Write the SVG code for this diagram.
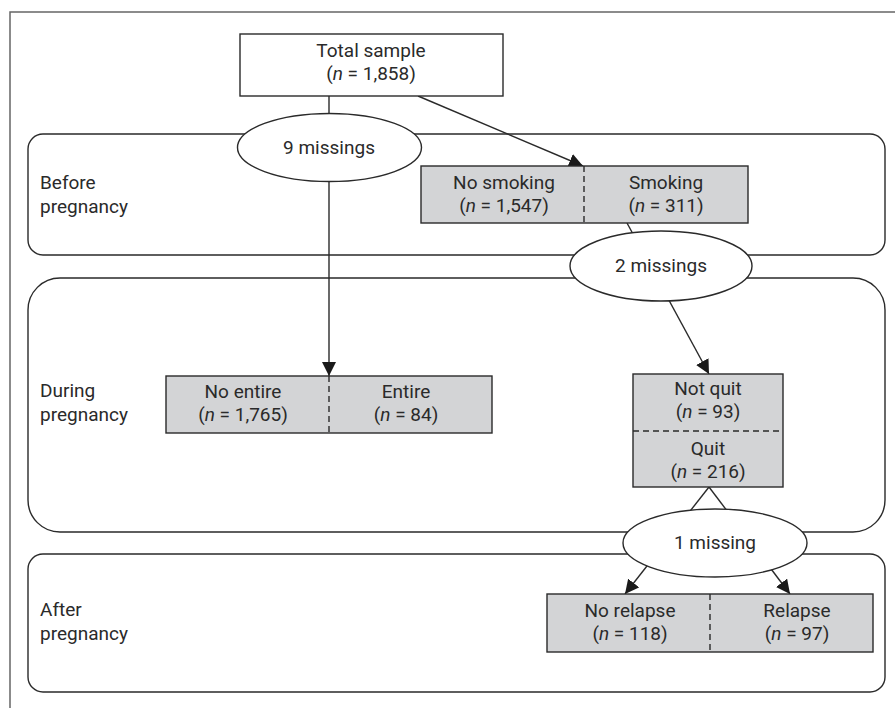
<svg xmlns="http://www.w3.org/2000/svg" width="895" height="708" viewBox="0 0 895 708">
<defs>
<marker id="arr" markerUnits="userSpaceOnUse" markerWidth="14" markerHeight="14" viewBox="0 0 14 14" refX="14" refY="7" orient="auto">
<path d="M0,0 L14,7 L0,14 Z" fill="#1a1a1a"/>
</marker>
<style>
text{font-family:Roboto,"Liberation Sans",sans-serif;font-size:19px;fill:#2a2a2a}
.c{text-anchor:middle}
.it{font-style:italic}
.phase{fill:none;stroke:#2a2a2a;stroke-width:1.4}
.box{fill:#d3d4d6;stroke:#2a2a2a;stroke-width:1.4}
.wbox{fill:#ffffff;stroke:#2a2a2a;stroke-width:1.4}
.ell{fill:#ffffff;stroke:#2a2a2a;stroke-width:1.4}
.dash{stroke:#2a2a2a;stroke-width:1.4;stroke-dasharray:6,4;fill:none}
.ln{stroke:#2a2a2a;stroke-width:1.4;fill:none}
</style>
</defs>
<rect width="895" height="708" fill="#ffffff"/>
<rect x="10" y="12" width="900" height="710" fill="none" stroke="#666666" stroke-width="1.5"/>

<g id="phase-before">
<rect class="phase" x="28" y="134" width="857" height="121" rx="15" ry="15"/>
<text><tspan x="40" y="189">Before</tspan><tspan x="40" y="213">pregnancy</tspan></text>
</g>
<g id="phase-during">
<rect class="phase" x="28" y="278" width="857" height="254" rx="32" ry="32"/>
<text><tspan x="40" y="397">During</tspan><tspan x="40" y="421">pregnancy</tspan></text>
</g>
<g id="phase-after">
<rect class="phase" x="28" y="554" width="857" height="138" rx="15" ry="15"/>
<text><tspan x="40" y="616">After</tspan><tspan x="40" y="640">pregnancy</tspan></text>
</g>

<g id="connectors">
<line class="ln" x1="329" y1="96" x2="329" y2="376" marker-end="url(#arr)"/>
<line class="ln" x1="418" y1="96" x2="583" y2="166" marker-end="url(#arr)"/>
<line class="ln" x1="627" y1="223" x2="709" y2="374" marker-end="url(#arr)"/>
<line class="ln" x1="709" y1="487" x2="625" y2="594" marker-end="url(#arr)"/>
<line class="ln" x1="709" y1="487" x2="790" y2="594" marker-end="url(#arr)"/>
</g>

<g id="total-sample">
<rect class="wbox" x="240" y="34" width="263" height="62"/>
<text class="c"><tspan x="371" y="57">Total sample</tspan><tspan x="371" y="80">(<tspan class="it">n</tspan> = 1,858)</tspan></text>
</g>

<g id="missing-9">
<ellipse class="ell" cx="329.5" cy="147.5" rx="92" ry="34"/>
<text class="c" x="329" y="154">9 missings</text>
</g>

<g id="smoking-before">
<rect class="box" x="421" y="166" width="327" height="57"/>
<line class="dash" x1="584" y1="166" x2="584" y2="223"/>
<text class="c"><tspan x="504" y="189">No smoking</tspan><tspan x="504" y="212">(<tspan class="it">n</tspan> = 1,547)</tspan></text>
<text class="c"><tspan x="666" y="189">Smoking</tspan><tspan x="666" y="212">(<tspan class="it">n</tspan> = 311)</tspan></text>
</g>

<g id="missing-2">
<ellipse class="ell" cx="661" cy="266" rx="91" ry="35"/>
<text class="c" x="661" y="272">2 missings</text>
</g>

<g id="entire">
<rect class="box" x="166" y="376" width="326" height="57"/>
<line class="dash" x1="329" y1="376" x2="329" y2="433"/>
<text class="c"><tspan x="243" y="398">No entire</tspan><tspan x="243" y="421">(<tspan class="it">n</tspan> = 1,765)</tspan></text>
<text class="c"><tspan x="406" y="398">Entire</tspan><tspan x="406" y="421">(<tspan class="it">n</tspan> = 84)</tspan></text>
</g>

<g id="quit">
<rect class="box" x="633" y="374" width="150" height="113"/>
<line class="dash" x1="633" y1="431" x2="783" y2="431"/>
<text class="c"><tspan x="708" y="395">Not quit</tspan><tspan x="708" y="418">(<tspan class="it">n</tspan> = 93)</tspan></text>
<text class="c"><tspan x="708" y="455">Quit</tspan><tspan x="708" y="478">(<tspan class="it">n</tspan> = 216)</tspan></text>
</g>

<g id="missing-1">
<ellipse class="ell" cx="715" cy="543" rx="92" ry="34"/>
<text class="c" x="715" y="549">1 missing</text>
</g>

<g id="relapse">
<rect class="box" x="547" y="594" width="326" height="58"/>
<line class="dash" x1="710" y1="594" x2="710" y2="652"/>
<text class="c"><tspan x="630" y="617">No relapse</tspan><tspan x="630" y="640">(<tspan class="it">n</tspan> = 118)</tspan></text>
<text class="c"><tspan x="797" y="617">Relapse</tspan><tspan x="797" y="640">(<tspan class="it">n</tspan> = 97)</tspan></text>
</g>
</svg>
